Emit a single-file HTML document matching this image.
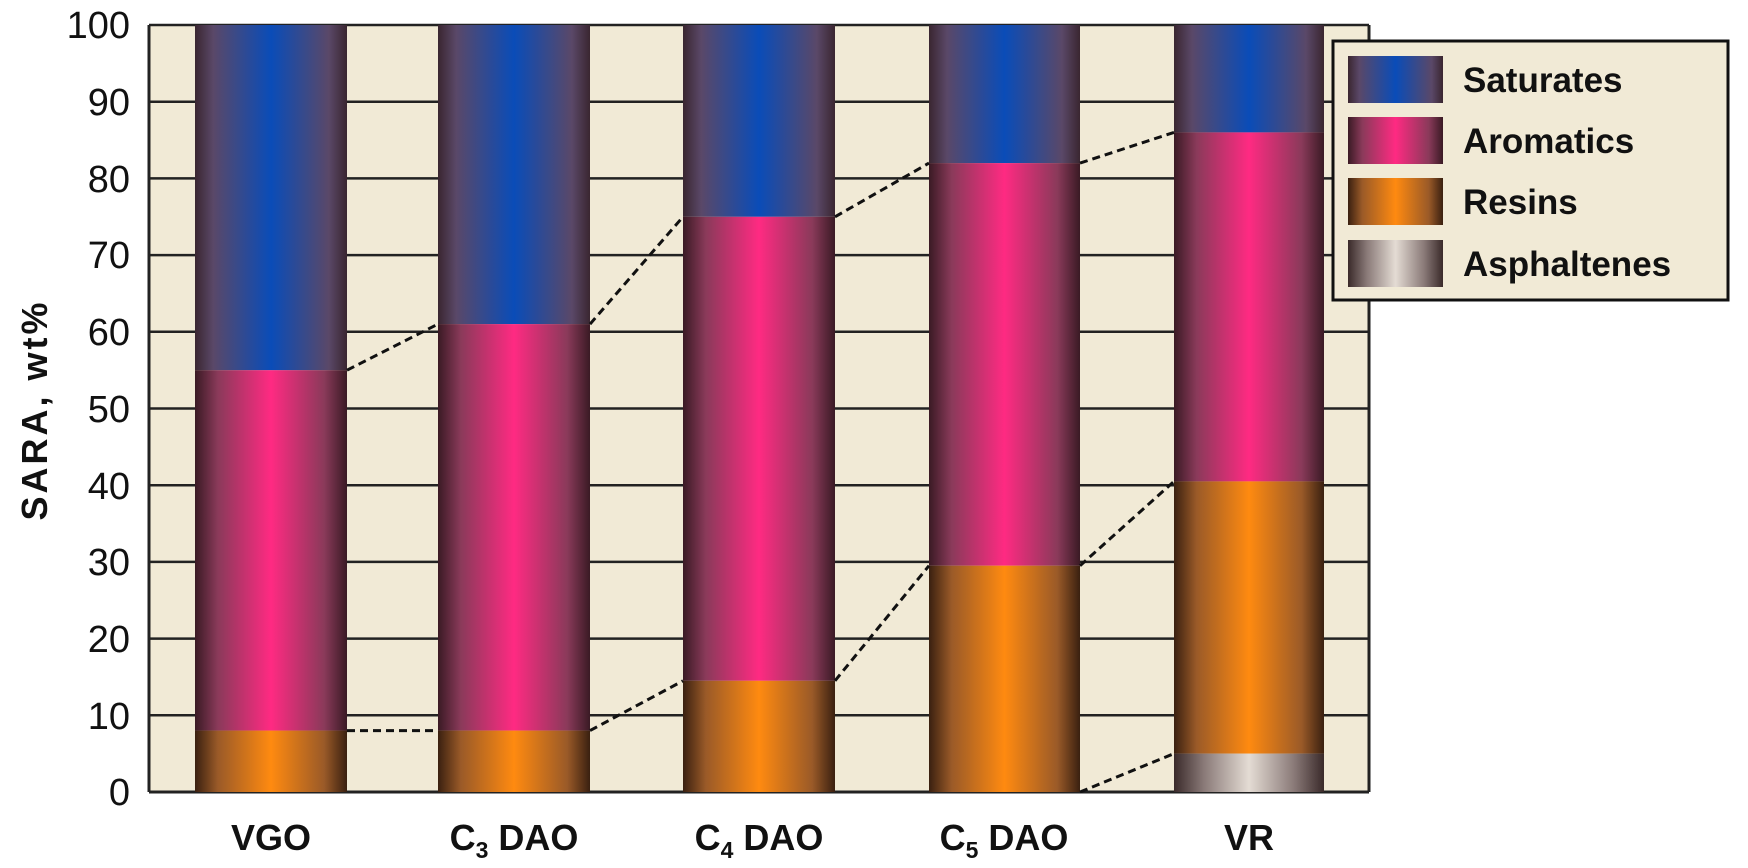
<!DOCTYPE html>
<html><head><meta charset="utf-8"><style>
html,body{margin:0;padding:0;background:#fff;width:1748px;height:868px;overflow:hidden}
svg text{font-family:"Liberation Sans",Arial,sans-serif;fill:#111}
</style></head><body>
<svg width="1748" height="868" viewBox="0 0 1748 868" xmlns="http://www.w3.org/2000/svg">
<defs>
<linearGradient id="sat" x1="0" x2="1" y1="0" y2="0">
<stop offset="0" stop-color="#3a2630"/><stop offset="0.12" stop-color="#5a4868"/><stop offset="0.5" stop-color="#0a4cb8"/><stop offset="0.88" stop-color="#5a4868"/><stop offset="1" stop-color="#3a2630"/></linearGradient>
<linearGradient id="aro" x1="0" x2="1" y1="0" y2="0">
<stop offset="0" stop-color="#3a1a24"/><stop offset="0.15" stop-color="#8a3a5a"/><stop offset="0.5" stop-color="#ff2a82"/><stop offset="0.85" stop-color="#8a3a5a"/><stop offset="1" stop-color="#3a1a24"/></linearGradient>
<linearGradient id="res" x1="0" x2="1" y1="0" y2="0">
<stop offset="0" stop-color="#3a2010"/><stop offset="0.15" stop-color="#9a5a28"/><stop offset="0.5" stop-color="#ff8a10"/><stop offset="0.85" stop-color="#9a5a28"/><stop offset="1" stop-color="#3a2010"/></linearGradient>
<linearGradient id="asp" x1="0" x2="1" y1="0" y2="0">
<stop offset="0" stop-color="#3a2a2a"/><stop offset="0.2" stop-color="#8a7a78"/><stop offset="0.5" stop-color="#e4dcd4"/><stop offset="0.8" stop-color="#8a7a78"/><stop offset="1" stop-color="#3a2a2a"/></linearGradient>
</defs>
<rect x="149" y="25" width="1220" height="767" fill="#f1ead6"/>
<g stroke="#222" stroke-width="2.5">
<line x1="149" x2="1369" y1="25" y2="25"/>
<line x1="149" x2="1369" y1="101.7" y2="101.7"/>
<line x1="149" x2="1369" y1="178.4" y2="178.4"/>
<line x1="149" x2="1369" y1="255.1" y2="255.1"/>
<line x1="149" x2="1369" y1="331.8" y2="331.8"/>
<line x1="149" x2="1369" y1="408.5" y2="408.5"/>
<line x1="149" x2="1369" y1="485.2" y2="485.2"/>
<line x1="149" x2="1369" y1="561.9" y2="561.9"/>
<line x1="149" x2="1369" y1="638.6" y2="638.6"/>
<line x1="149" x2="1369" y1="715.3" y2="715.3"/>
<line x1="149" x2="1369" y1="792" y2="792" stroke-width="3"/>
<line x1="149" x2="149" y1="25" y2="792" stroke-width="3"/>
<line x1="1369" x2="1369" y1="25" y2="792" stroke-width="3"/>
</g>
<rect x="195" y="25" width="152" height="345.2" fill="url(#sat)"/>
<rect x="195" y="370.2" width="152" height="360.5" fill="url(#aro)"/>
<rect x="195" y="730.6" width="152" height="61.4" fill="url(#res)"/>
<rect x="438" y="25" width="152" height="299.1" fill="url(#sat)"/>
<rect x="438" y="324.1" width="152" height="406.5" fill="url(#aro)"/>
<rect x="438" y="730.6" width="152" height="61.4" fill="url(#res)"/>
<rect x="683" y="25" width="152" height="191.8" fill="url(#sat)"/>
<rect x="683" y="216.8" width="152" height="464" fill="url(#aro)"/>
<rect x="683" y="680.8" width="152" height="111.2" fill="url(#res)"/>
<rect x="929" y="25" width="151" height="138.1" fill="url(#sat)"/>
<rect x="929" y="163.1" width="151" height="402.6" fill="url(#aro)"/>
<rect x="929" y="565.7" width="151" height="226.3" fill="url(#res)"/>
<rect x="1174" y="25" width="150" height="107.4" fill="url(#sat)"/>
<rect x="1174" y="132.4" width="150" height="349" fill="url(#aro)"/>
<rect x="1174" y="481.4" width="150" height="272.2" fill="url(#res)"/>
<rect x="1174" y="753.6" width="150" height="38.4" fill="url(#asp)"/>
<g stroke="#111" stroke-width="3" stroke-dasharray="8,5" fill="none">
<line x1="347" y1="370.2" x2="438" y2="324.1"/>
<line x1="590" y1="324.1" x2="683" y2="216.8"/>
<line x1="835" y1="216.8" x2="929" y2="163.1"/>
<line x1="1080" y1="163.1" x2="1174" y2="132.4"/>
<line x1="347" y1="730.6" x2="438" y2="730.6"/>
<line x1="590" y1="730.6" x2="683" y2="680.8"/>
<line x1="835" y1="680.8" x2="929" y2="565.7"/>
<line x1="1080" y1="565.7" x2="1174" y2="481.4"/>
<line x1="1080" y1="792" x2="1174" y2="753.6"/>
</g>
<g font-size="38" text-anchor="end">
<text x="130" y="38">100</text>
<text x="130" y="115">90</text>
<text x="130" y="192">80</text>
<text x="130" y="268">70</text>
<text x="130" y="345">60</text>
<text x="130" y="422">50</text>
<text x="130" y="499">40</text>
<text x="130" y="575">30</text>
<text x="130" y="652">20</text>
<text x="130" y="729">10</text>
<text x="130" y="805">0</text>
</g>
<text transform="translate(47,410) rotate(-90)" font-size="36" font-weight="bold" letter-spacing="3" text-anchor="middle">SARA, wt%</text>
<g font-size="36" font-weight="bold" text-anchor="middle">
<text x="271" y="850">VGO</text>
<text x="514" y="850">C<tspan font-size="23" dy="8">3</tspan><tspan dy="-8"> DAO</tspan></text>
<text x="759" y="850">C<tspan font-size="23" dy="8">4</tspan><tspan dy="-8"> DAO</tspan></text>
<text x="1004" y="850">C<tspan font-size="23" dy="8">5</tspan><tspan dy="-8"> DAO</tspan></text>
<text x="1249" y="850">VR</text>
</g>
<rect x="1333" y="41" width="395" height="259" fill="#f1ead6" stroke="#111" stroke-width="3"/>
<rect x="1348" y="56" width="95" height="47" fill="url(#sat)"/>
<rect x="1348" y="117" width="95" height="47" fill="url(#aro)"/>
<rect x="1348" y="178" width="95" height="47" fill="url(#res)"/>
<rect x="1348" y="240" width="95" height="47" fill="url(#asp)"/>
<g font-size="35" font-weight="bold">
<text x="1463" y="92">Saturates</text>
<text x="1463" y="153">Aromatics</text>
<text x="1463" y="214">Resins</text>
<text x="1463" y="276">Asphaltenes</text>
</g>
</svg>
</body></html>
